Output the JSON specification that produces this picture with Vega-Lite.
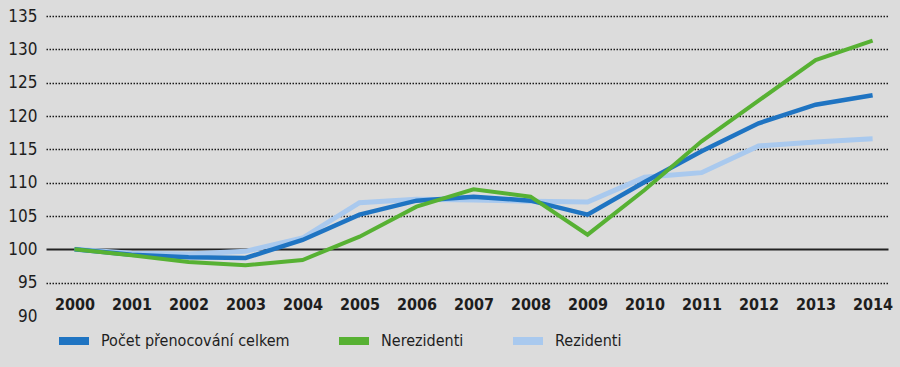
{
  "$schema": "https://vega.github.io/schema/vega-lite/v6.json",
  "autosize": "none",
  "width": 842,
  "height": 300,
  "padding": {"left": 46, "top": 16, "right": 12, "bottom": 51},
  "background": "#dcdcdc",
  "config": {
    "view": {"stroke": null},
    "font": "DejaVu Sans Condensed, Roboto, sans-serif"
  },
  "datasets": {
    "d": [
      {"year": 2000, "series": "Počet přenocování celkem", "value": 100.0},
      {"year": 2001, "series": "Počet přenocování celkem", "value": 99.2},
      {"year": 2002, "series": "Počet přenocování celkem", "value": 98.8},
      {"year": 2003, "series": "Počet přenocování celkem", "value": 98.7},
      {"year": 2004, "series": "Počet přenocování celkem", "value": 101.4},
      {"year": 2005, "series": "Počet přenocování celkem", "value": 105.2},
      {"year": 2006, "series": "Počet přenocování celkem", "value": 107.3},
      {"year": 2007, "series": "Počet přenocování celkem", "value": 107.9},
      {"year": 2008, "series": "Počet přenocování celkem", "value": 107.3},
      {"year": 2009, "series": "Počet přenocování celkem", "value": 105.2},
      {"year": 2010, "series": "Počet přenocování celkem", "value": 110.1},
      {"year": 2011, "series": "Počet přenocování celkem", "value": 114.7},
      {"year": 2012, "series": "Počet přenocování celkem", "value": 118.9},
      {"year": 2013, "series": "Počet přenocování celkem", "value": 121.7},
      {"year": 2014, "series": "Počet přenocování celkem", "value": 123.1},
      {"year": 2000, "series": "Nerezidenti", "value": 100.0},
      {"year": 2001, "series": "Nerezidenti", "value": 99.1},
      {"year": 2002, "series": "Nerezidenti", "value": 98.1},
      {"year": 2003, "series": "Nerezidenti", "value": 97.6},
      {"year": 2004, "series": "Nerezidenti", "value": 98.4},
      {"year": 2005, "series": "Nerezidenti", "value": 101.9},
      {"year": 2006, "series": "Nerezidenti", "value": 106.4},
      {"year": 2007, "series": "Nerezidenti", "value": 109.0},
      {"year": 2008, "series": "Nerezidenti", "value": 107.9},
      {"year": 2009, "series": "Nerezidenti", "value": 102.2},
      {"year": 2010, "series": "Nerezidenti", "value": 108.9},
      {"year": 2011, "series": "Nerezidenti", "value": 116.2},
      {"year": 2012, "series": "Nerezidenti", "value": 122.3},
      {"year": 2013, "series": "Nerezidenti", "value": 128.4},
      {"year": 2014, "series": "Nerezidenti", "value": 131.3},
      {"year": 2000, "series": "Rezidenti", "value": 100.0},
      {"year": 2001, "series": "Rezidenti", "value": 99.4},
      {"year": 2002, "series": "Rezidenti", "value": 99.3},
      {"year": 2003, "series": "Rezidenti", "value": 99.7},
      {"year": 2004, "series": "Rezidenti", "value": 101.7},
      {"year": 2005, "series": "Rezidenti", "value": 107.0},
      {"year": 2006, "series": "Rezidenti", "value": 107.5},
      {"year": 2007, "series": "Rezidenti", "value": 107.4},
      {"year": 2008, "series": "Rezidenti", "value": 107.2},
      {"year": 2009, "series": "Rezidenti", "value": 107.1},
      {"year": 2010, "series": "Rezidenti", "value": 110.8},
      {"year": 2011, "series": "Rezidenti", "value": 111.5},
      {"year": 2012, "series": "Rezidenti", "value": 115.5},
      {"year": 2013, "series": "Rezidenti", "value": 116.1},
      {"year": 2014, "series": "Rezidenti", "value": 116.6}
    ]
  },
  "data": {"name": "d"},
  "encoding": {
    "x": {
      "field": "year", "type": "quantitative",
      "scale": {"domain": [1999.5, 2014.27], "nice": false, "zero": false},
      "axis": {
        "title": null, "values": [2000,2001,2002,2003,2004,2005,2006,2007,2008,2009,2010,2011,2012,2013,2014],
        "format": "d", "grid": false, "domain": false, "ticks": false,
        "labelPadding": -12, "labelBaseline": "middle",
        "labelFont": "DejaVu Sans Condensed, Roboto, sans-serif", "labelFontWeight": "bold", "labelFontSize": 16,
        "labelColor": "#1e1e1e", "labelFlush": false
      }
    },
    "y": {
      "field": "value", "type": "quantitative",
      "scale": {"domain": [90, 135], "nice": false, "zero": false},
      "axis": {
        "title": null, "values": [90,95,100,105,110,115,120,125,130,135],
        "domain": false, "ticks": false, "labelPadding": 9,
        "labelFont": "DejaVu Sans Condensed, Roboto, sans-serif", "labelFontSize": 17, "labelColor": "#1e1e1e",
        "grid": true,
        "gridColor": {"condition": {"test": "datum.value === 100", "value": "#222222"}, "value": "#1a1a1a"},
        "gridDash": {"condition": {"test": "datum.value === 100", "value": []}, "value": [1.5, 1.5]},
        "gridWidth": {"condition": {"test": "datum.value === 100", "value": 2}, "value": 1.5},
        "gridOpacity": {"condition": {"test": "datum.value === 90", "value": 0}, "value": 1}
      }
    },
    "color": {
      "field": "series", "type": "nominal",
      "scale": {
        "domain": ["Počet přenocování celkem", "Nerezidenti", "Rezidenti"],
        "range": ["#1f74c2", "#57b133", "#a9c9ee"]
      },
      "legend": {
        "title": null, "orient": "none", "direction": "horizontal",
        "legendX": 9, "legendY": 306,
        "symbolType": "stroke", "symbolSize": 900, "symbolStrokeWidth": 8,
        "labelFont": "DejaVu Sans Condensed, Roboto, sans-serif", "labelFontSize": 16, "labelColor": "#1e1e1e",
        "labelOffset": 8, "labelLimit": 400, "columnPadding": 33, "symbolOpacity": 1
      }
    }
  },
  "layer": [
    {
      "transform": [{"filter": "datum.series === 'Rezidenti'"}],
      "mark": {"type": "line", "strokeWidth": 5, "interpolate": "linear"}
    },
    {
      "transform": [{"filter": "datum.series === 'Počet přenocování celkem'"}],
      "mark": {"type": "line", "strokeWidth": 4.5, "interpolate": "linear"}
    },
    {
      "transform": [{"filter": "datum.series === 'Nerezidenti'"}],
      "mark": {"type": "line", "strokeWidth": 4, "interpolate": "linear"}
    }
  ]
}
